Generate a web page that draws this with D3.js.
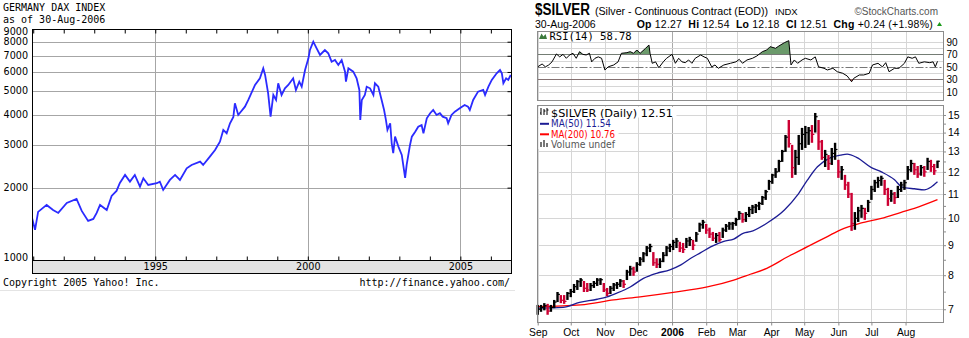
<!DOCTYPE html>
<html><head><meta charset="utf-8">
<script src="https://cdn.jsdelivr.net/npm/d3@7"></script>
<style>body{margin:0;background:#fff}svg{display:block}</style>
</head><body>
<svg id="c" width="969" height="338"></svg>
<script>
// ---------------- DAX (left) data ----------------
const daxYears = [1990.95,1991.06,1991.16,1991.44,1991.65,1991.82,1992.10,1992.42,1992.59,1992.80,
1992.97,1993.08,1993.19,1993.41,1993.57,1993.73,1993.84,1994.01,1994.17,1994.33,
1994.50,1994.61,1994.77,1995.05,1995.15,1995.26,1995.48,1995.65,1995.81,1996.03,
1996.19,1996.47,1996.57,1996.79,1996.96,1997.12,1997.23,1997.34,1997.45,1997.56,
1997.61,1997.72,1997.94,1998.05,1998.27,1998.43,1998.54,1998.60,1998.70,1998.78,
1998.87,1998.96,1999.03,1999.14,1999.25,1999.36,1999.52,1999.61,1999.72,1999.80,
1999.91,2000.02,2000.07,2000.18,2000.29,2000.40,2000.56,2000.67,2000.78,2000.89,
2001.00,2001.11,2001.22,2001.25,2001.33,2001.49,2001.60,2001.69,2001.72,2001.77,
2001.87,2001.93,2002.04,2002.15,2002.20,2002.31,2002.42,2002.50,2002.56,2002.61,
2002.70,2002.75,2002.80,2002.86,2002.97,2003.08,2003.19,2003.24,2003.35,2003.41,
2003.52,2003.62,2003.73,2003.79,2003.90,2004.01,2004.11,2004.22,2004.33,2004.42,
2004.55,2004.60,2004.71,2004.82,2004.98,2005.14,2005.25,2005.31,2005.42,2005.58,
2005.75,2005.81,2005.92,2006.03,2006.19,2006.30,2006.36,2006.41,2006.50,2006.57,
2006.65];
const daxValues = [1519,1339,1588,1697,1618,1573,1729,1797,1603,1458,
1486,1573,1697,1618,1849,1939,2092,2256,2117,2256,
2019,2187,2052,2085,2117,1957,2152,2256,2152,2404,
2481,2560,2481,2685,2861,3095,3459,3353,3687,3914,
4459,3989,4315,4600,5303,5653,6216,5832,4900,3926,
4824,4600,5390,4824,5138,5303,5653,5057,5472,5218,
6113,6833,7392,8000,7512,7052,7392,7168,6616,6724,
6412,6724,6016,5472,6216,6016,5653,5057,3804,4600,
4824,5218,5138,4824,5390,5218,4600,4182,3804,3459,
3687,3048,2773,3246,2952,2729,2193,2481,3000,3246,
3404,3569,3627,3353,3866,4054,4182,3989,4054,3926,
3866,3687,3989,4116,4251,4385,4315,4182,4600,4977,
5057,4824,5218,5563,5927,6113,5927,5390,5653,5563,
5832];
const daxYTicks = [1000,2000,3000,4000,5000,6000,7000,8000,9000];
const daxXLabels = [1995,2000,2005];
const daxYearTicks = [1991,1992,1993,1994,1995,1996,1997,1998,1999,2000,2001,2002,2003,2004,2005,2006];

// ---------------- $SILVER (right) data ----------------
const silverDates = ["2005-09-01","2005-09-04","2005-09-07","2005-09-10","2005-09-13","2005-09-16","2005-09-19","2005-09-22","2005-09-25","2005-09-28",
"2005-10-01","2005-10-04","2005-10-07","2005-10-10","2005-10-13","2005-10-16","2005-10-19","2005-10-22","2005-10-25","2005-10-28","2005-10-31",
"2005-11-03","2005-11-06","2005-11-09","2005-11-12","2005-11-15","2005-11-18","2005-11-21","2005-11-24","2005-11-27","2005-11-30",
"2005-12-03","2005-12-06","2005-12-09","2005-12-12","2005-12-15","2005-12-18","2005-12-21","2005-12-24","2005-12-27","2005-12-30",
"2006-01-02","2006-01-05","2006-01-08","2006-01-11","2006-01-14","2006-01-17","2006-01-20","2006-01-23","2006-01-26","2006-01-29",
"2006-02-01","2006-02-04","2006-02-07","2006-02-10","2006-02-13","2006-02-16","2006-02-19","2006-02-22","2006-02-25","2006-02-28",
"2006-03-03","2006-03-06","2006-03-09","2006-03-12","2006-03-15","2006-03-18","2006-03-21","2006-03-24","2006-03-27","2006-03-30",
"2006-04-02","2006-04-05","2006-04-08","2006-04-11","2006-04-14","2006-04-17","2006-04-20","2006-04-23","2006-04-26","2006-04-29",
"2006-05-02","2006-05-05","2006-05-08","2006-05-11","2006-05-14","2006-05-17","2006-05-20","2006-05-23","2006-05-26","2006-05-29",
"2006-06-01","2006-06-04","2006-06-07","2006-06-10","2006-06-13","2006-06-16","2006-06-19","2006-06-22","2006-06-25","2006-06-28",
"2006-07-01","2006-07-04","2006-07-07","2006-07-10","2006-07-13","2006-07-16","2006-07-19","2006-07-22","2006-07-25","2006-07-28","2006-07-31",
"2006-08-03","2006-08-06","2006-08-09","2006-08-12","2006-08-15","2006-08-18","2006-08-21","2006-08-24","2006-08-27","2006-08-30"];
const silverHigh = [7.12,7.12,7.17,7.15,7.12,7.26,7.49,7.40,7.40,7.49,
7.58,7.73,7.85,7.91,7.82,7.76,7.76,7.82,7.91,7.91,7.76,
7.61,7.67,7.76,7.79,7.88,7.85,8.17,8.30,8.27,8.42,
8.59,8.76,8.97,9.05,8.76,8.55,8.55,8.76,8.97,9.05,
9.19,9.26,9.12,9.08,9.26,9.30,9.19,9.48,9.83,9.94,
9.78,9.64,9.48,9.44,9.48,9.64,9.78,9.86,9.86,10.02,
10.29,10.21,10.25,10.46,10.54,10.58,10.67,10.92,11.18,11.63,
11.91,12.18,12.58,13.08,13.87,14.71,13.34,13.08,13.87,14.26,
14.37,14.31,14.42,15.12,14.71,13.60,13.08,12.82,13.18,13.45,
12.58,12.28,11.86,11.54,11.05,10.25,10.46,10.54,10.42,10.75,
11.36,11.63,11.77,11.82,11.63,11.27,11.18,11.09,11.36,11.54,11.63,
12.28,12.58,12.43,12.28,12.33,12.28,12.68,12.58,12.38,12.54];
const silverLow = [6.85,6.93,6.97,6.85,6.93,7.03,7.20,7.17,7.15,7.26,
7.34,7.46,7.55,7.64,7.49,7.49,7.52,7.61,7.67,7.70,7.49,
7.37,7.43,7.52,7.58,7.64,7.61,7.85,7.98,7.98,8.11,
8.30,8.42,8.62,8.76,8.30,8.23,8.23,8.42,8.62,8.76,
8.83,8.90,8.76,8.73,8.90,8.97,8.83,9.12,9.48,9.60,
9.41,9.26,9.15,9.08,9.12,9.26,9.48,9.56,9.56,9.71,
9.94,9.83,9.86,10.05,10.17,10.21,10.33,10.54,10.75,11.18,
11.45,11.72,12.00,12.48,12.98,13.20,11.72,11.86,12.33,13.08,
13.18,13.34,13.45,14.00,13.08,12.58,12.23,12.09,12.33,12.58,
11.72,11.63,11.18,10.83,9.52,9.56,9.86,10.02,9.94,10.25,
10.75,11.09,11.27,11.36,10.96,10.50,10.67,10.58,10.83,11.09,11.18,
11.63,12.00,11.86,11.72,11.82,11.77,12.09,12.00,11.86,12.18];
const silverClose = [7.00,7.05,7.10,6.95,7.05,7.20,7.42,7.25,7.22,7.45,
7.50,7.65,7.80,7.85,7.60,7.55,7.68,7.75,7.85,7.86,7.55,
7.45,7.60,7.70,7.72,7.82,7.72,8.10,8.20,8.10,8.35,
8.52,8.70,8.90,8.95,8.40,8.35,8.45,8.65,8.90,8.95,
9.10,9.15,8.90,8.85,9.15,9.20,9.00,9.40,9.75,9.85,
9.55,9.40,9.25,9.35,9.20,9.55,9.70,9.78,9.80,9.95,
10.20,9.95,10.15,10.35,10.45,10.50,10.60,10.85,11.10,11.55,
11.85,12.00,12.50,13.00,13.75,13.40,12.20,12.70,13.40,13.90,
14.00,14.10,13.90,14.90,13.50,12.70,12.85,12.40,12.90,13.10,
12.00,12.10,11.40,11.00,9.80,10.00,10.30,10.40,10.20,10.65,
11.20,11.50,11.60,11.70,11.20,10.80,11.00,10.85,11.20,11.40,11.50,
12.10,12.40,12.10,11.90,12.20,12.00,12.50,12.25,12.05,12.51];

const ma50Dates = ["2005-09-01","2005-09-24","2005-10-09","2005-10-25","2005-11-03","2005-11-12","2005-11-24","2005-12-06","2005-12-18","2005-12-30",
"2006-01-09","2006-01-18","2006-01-27","2006-02-05","2006-02-17","2006-02-26","2006-03-07","2006-03-13","2006-03-28","2006-04-13",
"2006-04-25","2006-05-04","2006-05-13","2006-05-25","2006-06-03","2006-06-09","2006-06-18","2006-07-01","2006-07-10","2006-07-22",
"2006-07-28","2006-08-01","2006-08-09","2006-08-18","2006-08-24","2006-08-30"];
const ma50Values = [7.03,7.05,7.19,7.28,7.35,7.46,7.64,7.90,8.06,8.17,
8.33,8.55,8.74,8.94,9.14,9.22,9.44,9.49,9.81,10.33,
10.96,11.63,12.24,12.69,12.82,12.87,12.69,12.20,12.00,11.63,
11.33,11.27,11.23,11.18,11.30,11.54];
const ma200Dates = ["2005-09-01","2005-10-10","2005-11-09","2005-12-03","2006-01-02","2006-02-02","2006-02-26","2006-03-13","2006-03-28","2006-04-16",
"2006-05-04","2006-05-22","2006-06-03","2006-06-21","2006-07-10","2006-07-28","2006-08-09","2006-08-30"];
const ma200Values = [7.07,7.12,7.26,7.35,7.48,7.64,7.85,8.03,8.22,8.60,
8.95,9.31,9.56,9.81,10.00,10.24,10.40,10.76];

const rsiDates = ["2005-09-01","2005-09-05","2005-09-08","2005-09-11","2005-09-14","2005-09-18","2005-09-21","2005-09-24","2005-09-27","2005-09-30",
"2005-10-03","2005-10-06","2005-10-09","2005-10-12","2005-10-15","2005-10-18","2005-10-20","2005-10-23","2005-10-26","2005-10-29",
"2005-11-01","2005-11-04","2005-11-09","2005-11-13","2005-11-16","2005-11-21","2005-11-24","2005-11-27","2005-11-30","2005-12-03",
"2005-12-08","2005-12-11","2005-12-12","2005-12-14","2005-12-17","2005-12-20","2005-12-24","2005-12-27","2006-01-01","2006-01-04",
"2006-01-07","2006-01-10","2006-01-13","2006-01-16","2006-01-19","2006-01-22","2006-01-27","2006-01-30","2006-02-02","2006-02-06",
"2006-02-09","2006-02-12","2006-02-17","2006-02-23","2006-02-28","2006-03-03","2006-03-06","2006-03-10","2006-03-15","2006-03-19",
"2006-03-24","2006-03-28","2006-03-31","2006-04-05","2006-04-08","2006-04-13","2006-04-17","2006-04-19","2006-04-22","2006-04-25",
"2006-04-29","2006-05-02","2006-05-07","2006-05-11","2006-05-14","2006-05-19","2006-05-22","2006-05-27","2006-05-31","2006-06-05",
"2006-06-09","2006-06-13","2006-06-15","2006-06-20","2006-06-24","2006-06-29","2006-07-02","2006-07-07","2006-07-11","2006-07-14",
"2006-07-17","2006-07-22","2006-07-26","2006-07-31","2006-08-03","2006-08-07","2006-08-10","2006-08-13","2006-08-18","2006-08-23",
"2006-08-26","2006-08-28","2006-08-30"];
const rsiValues = [50,54.6,50,53,58,70.6,66,70,63.7,69,
71.7,63.7,74.3,70,69,71.7,58,63.7,66,63.7,
45,50,53,58,71.7,72.7,74.3,71.7,77,71.7,
79.7,85,71.7,55.7,58,48.6,58,63.7,70,55.7,
63.7,58,56.7,61,55.7,63.7,69,66,63.7,50,
53,47.7,53,55.7,58,62,55.7,61,63.7,67.4,
74.3,77,82.3,79.7,83.4,88.7,91.9,53,61,55.7,
61,63.7,61,66,50,47.7,45,47.7,42.2,39.7,
35.4,26.2,31.7,37,37,39.7,53,55.7,50,56.7,
42.2,47.7,47.7,55.7,66,63.7,66,55.7,58,56.7,
58,50,58.78];
const rsiTicks = [10,30,50,70,90];
const priceTicks = [7,8,9,10,11,12,13,14,15];
const priceMinorTicks = [7,7.5,8,8.5,9,9.5,10,10.5,11,11.5,12,12.5,13,13.5,14,14.5,15];
const monthDates = ["2005-09-01","2005-10-01","2005-11-01","2005-12-01","2006-01-01","2006-02-01","2006-03-01","2006-04-01","2006-05-01","2006-06-01","2006-07-01","2006-08-01"];
const monthLabels = ["Sep","Oct","Nov","Dec","2006","Feb","Mar","Apr","May","Jun","Jul","Aug"];

// =================================================================
const svg = d3.select("#c");
const MONO = "'DejaVu Sans Mono', monospace";
const SANS = "'Liberation Sans', Arial, sans-serif";
const DSANS = "'DejaVu Sans', Verdana, sans-serif";

// ---------------- Left panel ----------------
const L = {l:32, r:511, t:29, b:260, band:273};
const xD = d3.scaleLinear().domain([1990.96, 2006.66]).range([L.l, L.r]);
const yD = d3.scaleLog().domain([1000, 9000]).range([260.6, 29.3]);
const gL = svg.append("g");

gL.append("text").attr("x",3).attr("y",10.5).attr("font-family",MONO).attr("font-size",10).text("GERMANY DAX INDEX");
gL.append("text").attr("x",3).attr("y",22.5).attr("font-family",MONO).attr("font-size",10).text("as of 30-Aug-2006");

gL.append("g").selectAll("line").data(daxYTicks.filter(d=>d>1000&&d<9000)).join("line")
  .attr("x1",L.l).attr("x2",L.r).attr("y1",d=>Math.round(yD(d))+0.5).attr("y2",d=>Math.round(yD(d))+0.5)
  .attr("stroke","#a6a6a6").attr("stroke-width",1);
gL.append("g").selectAll("line").data(daxXLabels).join("line")
  .attr("x1",d=>Math.round(xD(d))+0.5).attr("x2",d=>Math.round(xD(d))+0.5).attr("y1",L.t).attr("y2",L.b)
  .attr("stroke","#a6a6a6").attr("stroke-width",1);

gL.append("clipPath").attr("id","clipL").append("rect").attr("x",L.l).attr("y",L.t).attr("width",L.r-L.l).attr("height",L.b-L.t);
const daxLine = d3.line().x((d,i)=>xD(daxYears[i])).y(d=>yD(d));
gL.append("path").attr("d",daxLine(daxValues)).attr("fill","none").attr("stroke","#2b2bff")
  .attr("stroke-width",1.8).attr("stroke-linejoin","miter").attr("clip-path","url(#clipL)");

gL.append("rect").attr("x",L.l+0.5).attr("y",L.b+0.5).attr("width",L.r-L.l).attr("height",L.band-L.b)
  .attr("fill","#e3e3e3").attr("stroke","#000");
gL.append("rect").attr("x",L.l+0.5).attr("y",L.t+0.5).attr("width",L.r-L.l).attr("height",L.b-L.t)
  .attr("fill","none").attr("stroke","#000");

const tTop = gL.append("g").attr("transform",`translate(0,${L.t+0.5})`)
  .call(d3.axisTop(xD).tickValues(daxYearTicks).tickFormat("").tickSize(-4).tickSizeOuter(0));
const tBot = gL.append("g").attr("transform",`translate(0,${L.b+0.5})`)
  .call(d3.axisBottom(xD).tickValues(daxYearTicks).tickFormat("").tickSize(-4).tickSizeOuter(0));
const tRight = gL.append("g").attr("transform",`translate(${L.r+0.5},0)`)
  .call(d3.axisRight(yD).tickValues(daxYTicks.filter(d=>d>1000&&d<9000)).tickFormat("").tickSize(-4).tickSizeOuter(0));
[tTop,tBot,tRight].forEach(g=>{g.select(".domain").remove(); g.selectAll("line").attr("stroke","#000");});

const yAx = gL.append("g").attr("transform",`translate(${L.l},0)`)
  .call(d3.axisLeft(yD).tickValues(daxYTicks).tickFormat(d3.format("d")).tickSize(0).tickPadding(4));
yAx.select(".domain").remove();
yAx.selectAll(".tick").attr("transform",d=>`translate(0,${Math.min(Math.max(yD(d),32),257.5)})`);
yAx.selectAll("text").attr("font-family",DSANS).attr("font-size",9.6).attr("fill","#000");
const xAx = gL.append("g").attr("transform",`translate(0,${L.b})`)
  .call(d3.axisBottom(xD).tickValues(daxXLabels).tickFormat(d3.format("d")).tickSize(0).tickPadding(3.6));
xAx.select(".domain").remove();
xAx.selectAll("text").attr("font-family",DSANS).attr("font-size",9.6).attr("fill","#000");

gL.append("text").attr("x",3).attr("y",286).attr("font-family",MONO).attr("font-size",10).text("Copyright 2005 Yahoo! Inc.");
gL.append("text").attr("x",510).attr("y",286).attr("text-anchor","end").attr("font-family",MONO).attr("font-size",10).text("http://finance.yahoo.com/");
gL.append("line").attr("x1",0).attr("x2",515).attr("y1",290.5).attr("y2",290.5).attr("stroke","#e4e4e4");

// ---------------- Right panel ----------------
const parse = d3.timeParse("%Y-%m-%d");
const R = {l:537.5, r:943.5, rt:31.5, rb:100.5, pt:105.5, pb:322.5};
const xT = d3.scaleTime().domain([parse("2005-09-01"), parse("2006-09-04")]).range([537.7, 943]);
const yP = d3.scaleLog().domain([6.64, 15.6]).range([322.7, 105]);
const yR = d3.scaleLinear().domain([0,100]).range([98.1, 35.6]);
const gR = svg.append("g");

gR.append("text").attr("x",535).attr("y",15).attr("font-family","'Liberation Sans Narrow', "+SANS).attr("font-weight","bold")
  .attr("font-size",16).attr("textLength",55).attr("lengthAdjust","spacingAndGlyphs").text("$SILVER");
gR.append("text").attr("x",595).attr("y",14.5).attr("font-family",SANS).attr("font-size",11)
  .attr("textLength",173).attr("lengthAdjust","spacingAndGlyphs").text("(Silver - Continuous Contract (EOD))");
gR.append("text").attr("x",775).attr("y",14.5).attr("font-family",SANS).attr("font-size",9.5).text("INDX");
gR.append("text").attr("x",938).attr("y",14.5).attr("text-anchor","end").attr("font-family",SANS).attr("font-size",10).attr("fill","#555").text("\u00A9StockCharts.com");

gR.append("text").attr("x",535).attr("y",27.5).attr("font-family",SANS).attr("font-size",10.5).text("30-Aug-2006");
const hdrParts = [
  {t:"Op", b:true},{t:" 12.27  ", b:false},
  {t:"Hi", b:true},{t:" 12.54  ", b:false},
  {t:"Lo", b:true},{t:" 12.18  ", b:false},
  {t:"Cl", b:true},{t:" 12.51  ", b:false},
  {t:"Chg", b:true},{t:" +0.24 (+1.98%)", b:false}
];
const hdr = gR.append("text").attr("x",636.7).attr("y",27.5).attr("font-family",SANS).attr("font-size",10.5)
  .attr("textLength",296).attr("lengthAdjust","spacing").attr("xml:space","preserve").style("white-space","pre");
hdr.selectAll("tspan").data(hdrParts).join("tspan").attr("font-weight",d=>d.b?"bold":"normal").text(d=>d.t);
gR.append("path").attr("d","M937,26 L942,26 L939.5,22 Z").attr("fill","#1a9a1a");

gR.append("rect").attr("x",R.l).attr("y",R.rt).attr("width",R.r-R.l).attr("height",R.rb-R.rt).attr("fill","#fff");
gR.append("rect").attr("x",R.l).attr("y",R.pt).attr("width",R.r-R.l).attr("height",R.pb-R.pt).attr("fill","#fff");

const monthD = monthDates.map(parse);
[[R.rt,R.rb],[R.pt,R.pb]].forEach(([a,b])=>{
  gR.append("g").selectAll("line").data(monthD).join("line")
    .attr("x1",d=>Math.round(xT(d))+0.5).attr("x2",d=>Math.round(xT(d))+0.5).attr("y1",a).attr("y2",b)
    .attr("stroke",(d,i)=>monthLabels[i]==="2006"?"#a9a9a9":"#d6d6d6");
});
gR.append("g").selectAll("line").data([10,20,40,60,80,90]).join("line")
  .attr("x1",R.l).attr("x2",R.r).attr("y1",d=>Math.round(yR(d))+0.5).attr("y2",d=>Math.round(yR(d))+0.5).attr("stroke","#d6d6d6");
gR.append("g").selectAll("line").data([30,70]).join("line")
  .attr("x1",R.l).attr("x2",R.r).attr("y1",d=>Math.round(yR(d))+0.5).attr("y2",d=>Math.round(yR(d))+0.5).attr("stroke","#777").attr("stroke-width",1.2);
gR.append("line").attr("x1",R.l).attr("x2",R.r).attr("y1",Math.round(yR(50))+0.5).attr("y2",Math.round(yR(50))+0.5)
  .attr("stroke","#777").attr("stroke-dasharray","8,2,2,2");
gR.append("g").selectAll("line").data(priceTicks).join("line")
  .attr("x1",R.l).attr("x2",R.r).attr("y1",d=>Math.round(yP(d))+0.5).attr("y2",d=>Math.round(yP(d))+0.5).attr("stroke","#d6d6d6");

const rsiD = rsiDates.map(parse);
gR.append("clipPath").attr("id","clipOB").append("rect").attr("x",R.l).attr("y",R.rt).attr("width",R.r-R.l).attr("height",yR(70)-R.rt);
gR.append("clipPath").attr("id","clipOS").append("rect").attr("x",R.l).attr("y",yR(30)).attr("width",R.r-R.l).attr("height",R.rb-yR(30));
const rsiArea70 = d3.area().x((d,i)=>xT(rsiD[i])).y0(yR(70)).y1(d=>yR(d));
const rsiArea30 = d3.area().x((d,i)=>xT(rsiD[i])).y0(yR(30)).y1(d=>yR(d));
gR.append("path").attr("d",rsiArea70(rsiValues)).attr("fill","#6b9a6b").attr("clip-path","url(#clipOB)");
gR.append("path").attr("d",rsiArea30(rsiValues)).attr("fill","#c25a5a").attr("clip-path","url(#clipOS)");
gR.append("path").attr("d",d3.line().x((d,i)=>xT(rsiD[i])).y(d=>yR(d))(rsiValues))
  .attr("fill","none").attr("stroke","#000").attr("stroke-width",1);

const ma200D = ma200Dates.map(parse), ma50D = ma50Dates.map(parse);
gR.append("path").attr("d",d3.line().curve(d3.curveMonotoneX).x((d,i)=>xT(ma200D[i])).y(d=>yP(d))(ma200Values))
  .attr("fill","none").attr("stroke","#ff0000").attr("stroke-width",1.3);
gR.append("path").attr("d",d3.line().curve(d3.curveMonotoneX).x((d,i)=>xT(ma50D[i])).y(d=>yP(d))(ma50Values))
  .attr("fill","none").attr("stroke","#1c1c94").attr("stroke-width",1.3);

const sD = silverDates.map(parse);
const barColor = i => (i===0 || silverClose[i] >= silverClose[i-1]) ? "#000" : "#cc0033";
const bars = gR.append("g");
bars.selectAll("line.hl").data(silverHigh).join("line").attr("class","hl")
  .attr("x1",(d,i)=>xT(sD[i])).attr("x2",(d,i)=>xT(sD[i]))
  .attr("y1",d=>yP(d)).attr("y2",(d,i)=>yP(silverLow[i]))
  .attr("stroke",(d,i)=>barColor(i)).attr("stroke-width",2.4);
bars.selectAll("line.cl").data(silverClose).join("line").attr("class","cl")
  .attr("x1",(d,i)=>xT(sD[i])).attr("x2",(d,i)=>xT(sD[i])+2.4)
  .attr("y1",d=>yP(d)).attr("y2",d=>yP(d))
  .attr("stroke",(d,i)=>barColor(i)).attr("stroke-width",1.2);

gR.append("rect").attr("x",R.l).attr("y",R.rt).attr("width",R.r-R.l).attr("height",R.rb-R.rt).attr("fill","none").attr("stroke","#8c8c8c");
gR.append("rect").attr("x",R.l).attr("y",R.pt).attr("width",R.r-R.l).attr("height",R.pb-R.pt).attr("fill","none").attr("stroke","#8c8c8c");

const rsiAx = gR.append("g").attr("transform",`translate(${R.r},0)`)
  .call(d3.axisRight(yR).tickValues(rsiTicks).tickSize(0).tickPadding(3));
rsiAx.select(".domain").remove();
rsiAx.selectAll("text").attr("font-family",SANS).attr("font-size",10).attr("fill","#000");
const pMinor = gR.append("g").attr("transform",`translate(${R.r},0)`)
  .call(d3.axisRight(yP).tickValues(priceMinorTicks).tickFormat("").tickSize(2.5).tickSizeOuter(0));
pMinor.select(".domain").remove(); pMinor.selectAll("line").attr("stroke","#8c8c8c");
const pAx = gR.append("g").attr("transform",`translate(${R.r},0)`)
  .call(d3.axisRight(yP).tickValues(priceTicks).tickFormat(d3.format("d")).tickSize(0).tickPadding(4.5));
pAx.select(".domain").remove();
pAx.selectAll("text").attr("font-family",SANS).attr("font-size",10.5).attr("fill","#000");

const bAx = gR.append("g").attr("transform",`translate(0,${R.pb})`)
  .call(d3.axisBottom(xT).tickValues(monthD).tickFormat((d,i)=>monthLabels[i]).tickSize(3).tickPadding(3.5).tickSizeOuter(0));
bAx.select(".domain").remove();
bAx.selectAll("line").attr("stroke","#8c8c8c");
bAx.selectAll("text").attr("font-family",SANS).attr("font-size",10.3).attr("fill","#000")
  .attr("font-weight",(d,i)=>monthLabels[i]==="2006"?"bold":"normal");

gR.append("path").attr("d","M539,39 L541.5,33.5 L543.5,36.5 L545.5,34 L547,39 Z").attr("fill","#3c7a3c");
gR.append("text").attr("x",549.5).attr("y",40).attr("font-family",MONO).attr("font-size",10.5).text("RSI(14) 58.78");

const leg = gR.append("g");
const legRows = [
  {t:"$SILVER (Daily) 12.51", c:"#000", y:116.5, w:124},
  {t:"MA(50) 11.54", c:"#1c1c94", y:127.3, w:62},
  {t:"MA(200) 10.76", c:"#ff0000", y:137.8, w:66},
  {t:"Volume undef", c:"#555", y:148, w:66}
];
leg.selectAll("rect").data(legRows).join("rect").attr("x",538.5).attr("y",d=>d.y-9.5).attr("width",d=>d.w+14).attr("height",10.5).attr("fill","#fff");
leg.selectAll("text").data(legRows).join("text").attr("x",551).attr("y",d=>d.y).attr("font-family",DSANS).attr("font-size",10.2)
  .attr("textLength",d=>d.w-2).attr("lengthAdjust","spacingAndGlyphs")
  .attr("fill",d=>d.c).text(d=>d.t);
leg.append("path").attr("d","M541,108 v7 M540,113 h1 M544,109 v6 M544,111 h1.5 M547,108 v7 M547,110 h1.5").attr("stroke","#000").attr("fill","none");
leg.append("line").attr("x1",540).attr("x2",549).attr("y1",123.8).attr("y2",123.8).attr("stroke","#1c1c94").attr("stroke-width",2);
leg.append("line").attr("x1",540).attr("x2",549).attr("y1",134.3).attr("y2",134.3).attr("stroke","#ff0000").attr("stroke-width",2);
leg.append("path").attr("d","M540,147 v-5 h2 v5 M543,147 v-7 h2 v7 M546,147 v-4 h2 v4").attr("fill","#777").attr("stroke","none");
</script>
</body></html>
